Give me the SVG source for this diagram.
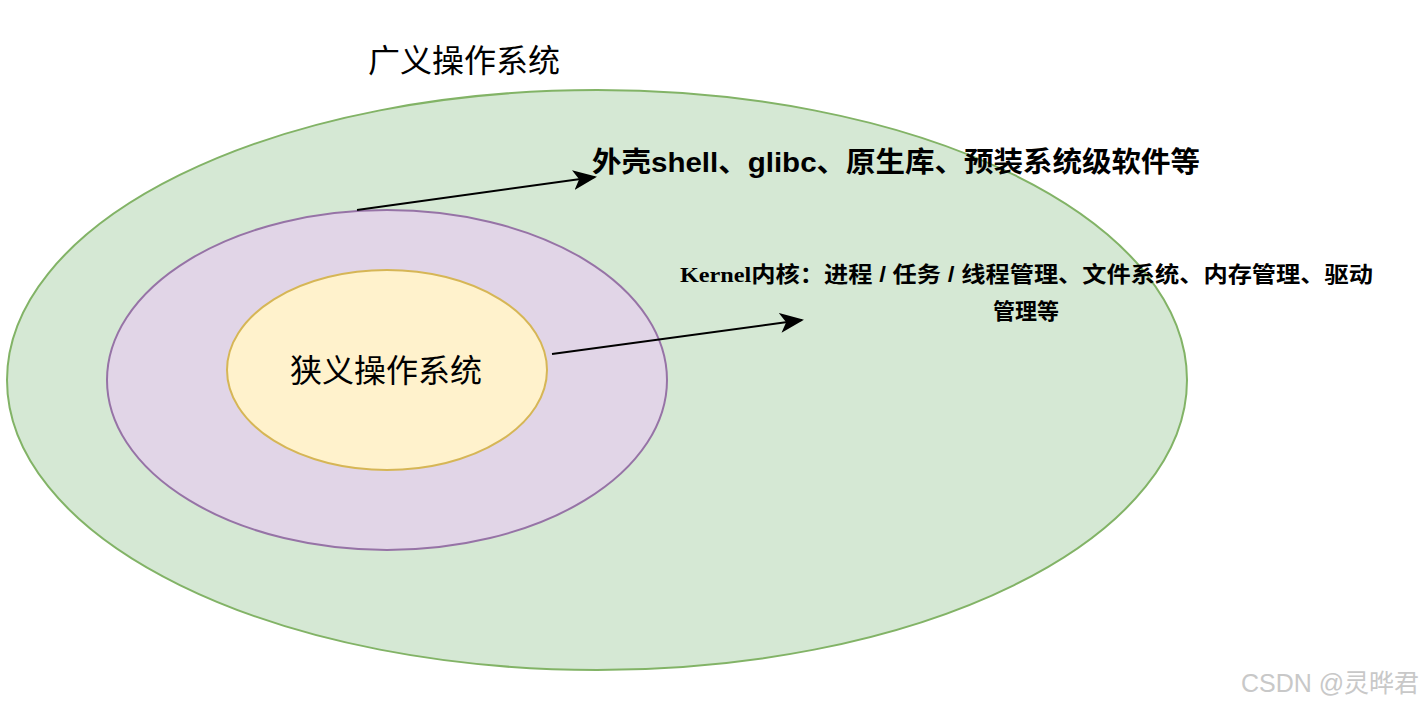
<svg xmlns="http://www.w3.org/2000/svg" width="1426" height="707" viewBox="0 0 1426 707">
<style>
.t{font-family:"Liberation Sans","Noto Sans CJK SC",sans-serif;fill:#000}
.b{font-weight:bold}
</style>
<defs><marker id="a" markerWidth="24" markerHeight="20" refX="22" refY="10" orient="auto" markerUnits="userSpaceOnUse" viewBox="0 0 24 20"><path d="M0,0 L24,10 L0,20 L6,10 z" fill="#000"/></marker></defs>
<rect width="1426" height="707" fill="#fff"/>
<g id="outer"><ellipse cx="597" cy="380" rx="590" ry="290" fill="#d5e8d4" stroke="#82b366" stroke-width="2"/>
<text class="t" x="464" y="72" font-size="32" text-anchor="middle">广义操作系统</text></g>
<g id="middle"><ellipse cx="387" cy="380" rx="280" ry="170" fill="#e1d5e7" stroke="#9673a6" stroke-width="2"/></g>
<g id="inner"><ellipse cx="387" cy="370" rx="160" ry="100" fill="#fff2cc" stroke="#d6b656" stroke-width="2"/>
<text class="t" x="386" y="382" font-size="32" text-anchor="middle">狭义操作系统</text></g>
<g id="shell"><text class="t b" x="592" y="172" font-size="28" textLength="608" lengthAdjust="spacingAndGlyphs">外壳shell、glibc、原生库、预装系统级软件等</text></g>
<g id="kernel"><text class="t b" x="680" y="282" font-size="22" textLength="693" lengthAdjust="spacingAndGlyphs"><tspan font-family="Liberation Serif,serif">Kernel</tspan>内核：进程 / 任务 / 线程管理、文件系统、内存管理、驱动</text>
<text class="t b" x="1026" y="319" font-size="22" text-anchor="middle">管理等</text></g>
<g id="connectors" stroke="#000" stroke-width="2" fill="none">
<line x1="357" y1="210" x2="595" y2="177" marker-end="url(#a)"/>
<line x1="552" y1="354" x2="802" y2="320" marker-end="url(#a)"/>
</g>
<text x="1330" y="692" font-family="Liberation Sans,Noto Sans CJK SC,sans-serif" font-size="25" fill="#c8c8c8" text-anchor="middle">CSDN @灵晔君</text>
</svg>
